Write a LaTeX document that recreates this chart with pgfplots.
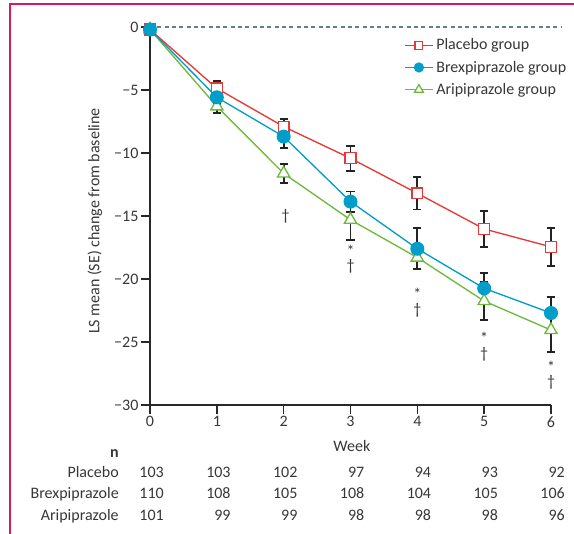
\documentclass[border=0pt]{standalone}
\usepackage{pgfplots}
\pgfplotsset{compat=1.18}
\usepackage{fontspec}
\setmainfont{Carlito}
\definecolor{cPla}{RGB}{232,55,55}
\definecolor{cBrx}{RGB}{0,158,200}
\definecolor{cAri}{RGB}{110,185,60}
\definecolor{cErr}{RGB}{35,35,35}
\definecolor{cAxis}{RGB}{40,40,40}
\definecolor{cText}{RGB}{55,55,55}
\definecolor{cFrame}{RGB}{215,25,95}
\definecolor{cDash}{RGB}{100,125,140}
\newcommand{\fs}{\fontsize{12}{14}\selectfont}

\pgfplotstableread{
w m e
0 -0.2 0
1 -4.87 0.58
2 -7.91 0.6
3 -10.42 1.0
4 -13.2 1.28
5 -16.03 1.43
6 -17.45 1.5
}\placebo
\pgfplotstableread{
w m e
0 -0.2 0
1 -5.58 0.52
2 -8.7 0.92
3 -13.86 0.8
4 -17.6 1.65
5 -20.74 1.2
6 -22.7 1.3
}\brex
\pgfplotstableread{
w m e
0 -0.2 0
1 -6.3 0.52
2 -11.62 0.78
3 -15.3 1.6
4 -18.3 0.9
5 -21.75 1.5
6 -24.05 1.72
}\arip

\begin{document}
\begin{tikzpicture}
\useasboundingbox (0,0) rectangle (430.5pt,400.5pt);
\draw[cFrame, line width=1.5pt] (7.5pt,0) -- (7.5pt,397.5pt) -- (430.5pt,397.5pt);
\begin{axis}[
  at={(112.5pt,96.75pt)}, anchor=south west,
  scale only axis, width=300.75pt, height=283.5pt,
  xmin=0, xmax=6, ymin=-30, ymax=0,
  axis lines*=left,
  axis line style={line width=1.1pt, cAxis},
  clip=false,
  xtick={0,1,2,3,4,5,6},
  ytick={-30,-25,-20,-15,-10,-5,0},
  yticklabels={−30,−25,−20,−15,−10,−5,0},
  tick align=outside, major tick length=6.5pt,
  tick style={line width=1.1pt, cAxis},
  ticklabel style={font=\fs, text=cText, inner sep=2pt},
  /pgf/number format/assume math mode=true,
  legend cell align=left,
  legend image code/.code={\draw[mark repeat=2,mark phase=2] plot coordinates {(0cm,0cm)(0.37cm,0cm)(0.74cm,0cm)};},
  legend style={at={(axis cs:3.80,-0.7)}, anchor=north west, draw=none, fill=none,
    font=\fs, text=cText, inner sep=0pt, row sep=2.8pt,
    nodes={inner sep=2pt}},
  error bars/y dir=both, error bars/y explicit,
  error bars/error bar style={line width=1.4pt, cErr},
  error bars/error mark options={rotate=90, mark size=3.1pt, line width=1.4pt, cErr},
]
\addplot[cDash, line width=1pt, dash pattern=on 3pt off 2.5pt, forget plot, no marks, error bars/y dir=none] coordinates {(0,0) (6.15,0)};

\addplot[cPla, line width=1pt, mark=square*, mark size=4.1pt, mark options={fill=white, draw=cPla, line width=1pt}, forget plot]
  table[x=w, y=m, y error=e] {\placebo};
\addplot[cAri, line width=1pt, mark=triangle*, mark size=5.3pt, mark options={fill=white, draw=cAri, line width=1pt}, forget plot]
  table[x=w, y=m, y error=e] {\arip};
\addplot[cBrx, line width=1pt, mark=*, mark size=4.75pt, mark options={fill=cBrx, draw=cBrx}, forget plot]
  table[x=w, y=m, y error=e] {\brex};

\addlegendimage{cPla, line width=1pt, mark=square*, mark size=2.9pt, mark options={fill=white, draw=cPla, line width=1pt}}
\addlegendentry{Placebo group}
\addlegendimage{cBrx, line width=1pt, mark=*, mark size=3.3pt, mark options={fill=cBrx, draw=cBrx}}
\addlegendentry{Brexpiprazole group}
\addlegendimage{cAri, line width=1pt, mark=triangle*, mark size=3.8pt, mark options={fill=white, draw=cAri, line width=1pt}}
\addlegendentry{Aripiprazole group}

% significance markers
\begin{scope}[every node/.style={font=\fs, text=cText, inner sep=0pt}]
\node at (axis cs:2.03,-15.06) {†};
\node at (axis cs:3.0,-17.75) {*};
\node at (axis cs:3.0,-19.0) {†};
\node at (axis cs:4.0,-21.17) {*};
\node at (axis cs:4.0,-22.52) {†};
\node at (axis cs:5.0,-24.68) {*};
\node at (axis cs:5.0,-26.01) {†};
\node at (axis cs:6.0,-26.98) {*};
\node at (axis cs:6.0,-28.23) {†};

\node[rotate=90] at (axis cs:-0.823,-15.4) {LS mean (SE) change from baseline};
\node[anchor=base] at (axis cs:3.02,-33.73) {Week};

\node[anchor=base east] at (axis cs:-0.464,-34.13) {\bfseries n};
\node[anchor=base east] at (axis cs:-0.464,-35.79) {Placebo};
\node[anchor=base east] at (axis cs:-0.464,-37.46) {Brexpiprazole};
\node[anchor=base east] at (axis cs:-0.464,-39.13) {Aripiprazole};

\node[anchor=base east] at (axis cs:0.21,-35.79) {103};
\node[anchor=base east] at (axis cs:1.21,-35.79) {103};
\node[anchor=base east] at (axis cs:2.21,-35.79) {102};
\node[anchor=base east] at (axis cs:3.21,-35.79) {97};
\node[anchor=base east] at (axis cs:4.21,-35.79) {94};
\node[anchor=base east] at (axis cs:5.21,-35.79) {93};
\node[anchor=base east] at (axis cs:6.21,-35.79) {92};

\node[anchor=base east] at (axis cs:0.21,-37.46) {110};
\node[anchor=base east] at (axis cs:1.21,-37.46) {108};
\node[anchor=base east] at (axis cs:2.21,-37.46) {105};
\node[anchor=base east] at (axis cs:3.21,-37.46) {108};
\node[anchor=base east] at (axis cs:4.21,-37.46) {104};
\node[anchor=base east] at (axis cs:5.21,-37.46) {105};
\node[anchor=base east] at (axis cs:6.21,-37.46) {106};

\node[anchor=base east] at (axis cs:0.21,-39.13) {101};
\node[anchor=base east] at (axis cs:1.21,-39.13) {99};
\node[anchor=base east] at (axis cs:2.21,-39.13) {99};
\node[anchor=base east] at (axis cs:3.21,-39.13) {98};
\node[anchor=base east] at (axis cs:4.21,-39.13) {98};
\node[anchor=base east] at (axis cs:5.21,-39.13) {98};
\node[anchor=base east] at (axis cs:6.21,-39.13) {96};
\end{scope}
\end{axis}
\end{tikzpicture}
\end{document}
